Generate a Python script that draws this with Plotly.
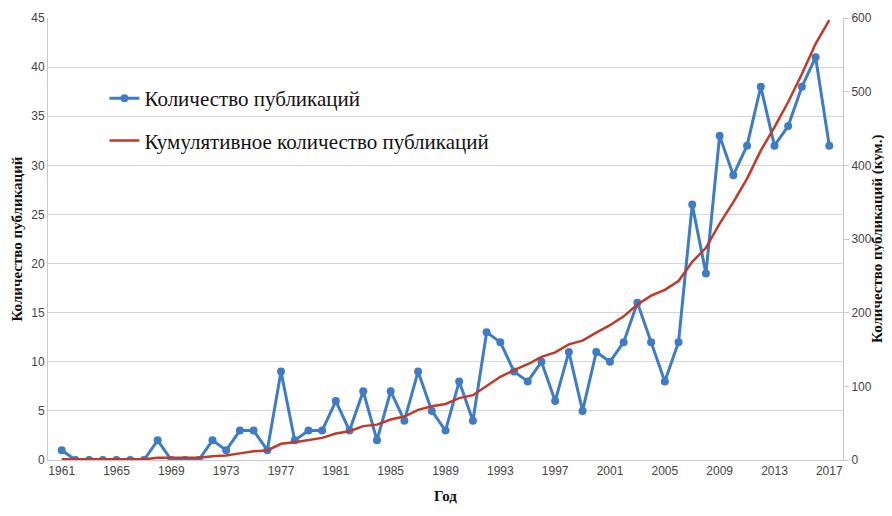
import plotly.graph_objects as go

years = list(range(1961, 2018))
counts = [1, 0, 0, 0, 0, 0, 0, 2, 0, 0, 0, 2, 1, 3, 3, 1,
          9, 2, 3, 3, 6, 3, 7, 2, 7, 4,
          9, 5, 3, 8, 4, 13, 12, 9, 8, 10,
          6, 11, 5, 11, 10, 12, 16, 12, 8, 12,
          26, 19, 33, 29, 32, 38, 32, 34, 38, 41, 32]
cumulative = [1, 1, 1, 1, 1, 1, 1, 3, 3, 3, 3, 5, 6, 9, 12, 13,
              22, 24, 27, 30, 36, 39, 46, 48, 55, 59,
              68, 73, 76, 84, 88, 101, 113, 122, 130, 140,
              146, 157, 162, 173, 183, 195, 211, 223, 231, 243,
              269, 288, 321, 350, 382, 420, 452, 486, 524, 565, 597]
tick_years = list(range(1961, 2018, 4))

BLUE = "#3F7CC4"
RED = "#C0392B"
serif = "Liberation Serif"
sans = "Liberation Sans"
title_font = dict(family=serif, size=15, color="#111")

fig = go.Figure()
fig.add_trace(go.Scatter(
    x=years, y=counts, mode="lines+markers",
    name="Количество публикаций", legendgroup="a",
    line=dict(color=BLUE, width=3), marker=dict(size=8, color=BLUE),
))
fig.add_trace(go.Scatter(
    x=years, y=cumulative, mode="lines", yaxis="y2",
    name="Кумулятивное количество публикаций", legendgroup="b",
    line=dict(color=RED, width=2.5),
))

# page body has an 8px margin; keep the figure short enough to avoid a scrollbar
fig.update_layout(
    width=884, height=498,
    margin=dict(l=40, r=49, t=10, b=46),
    paper_bgcolor="white", plot_bgcolor="white",
    showlegend=True,
    legend=dict(x=0.071, y=0.864, xanchor="left", yanchor="top",
                font=dict(family=serif, size=21, color="#111"),
                tracegroupgap=12, bgcolor="rgba(0,0,0,0)"),
    xaxis=dict(range=[1960, 2018], tickvals=tick_years, ticks="",
               showgrid=False, showline=True, linecolor="#C8C8C8",
               tickfont=dict(family=sans, size=12, color="#444"),
               zeroline=False, automargin=False),
    yaxis=dict(range=[0, 45], dtick=5, showgrid=True, gridcolor="#D6D6D6",
               showline=True, linecolor="#C8C8C8", zeroline=False,
               tickfont=dict(family=sans, size=12, color="#444"),
               automargin=False,
               title=dict(text="<b>Количество публикаций</b>", font=title_font, standoff=4)),
    yaxis2=dict(range=[0, 600], dtick=100, overlaying="y", side="right",
                showgrid=False, showline=True, linecolor="#C8C8C8", zeroline=False,
                ticks="outside", ticklen=5, tickcolor="#C8C8C8",
                tickfont=dict(family=sans, size=12, color="#444"),
                automargin=False),
)

fig.add_annotation(
    text="<b>Год</b>", xref="paper", yref="paper", x=0.5, y=0, yshift=-46,
    xanchor="center", yanchor="bottom", showarrow=False, font=title_font,
)
fig.add_annotation(
    text="<b>Количество публикаций (кум.)</b>",
    xref="paper", yref="paper", x=1, y=0.5, xshift=34,
    xanchor="center", yanchor="middle", textangle=-90, showarrow=False,
    font=title_font,
)

fig.write_html("out.html")
